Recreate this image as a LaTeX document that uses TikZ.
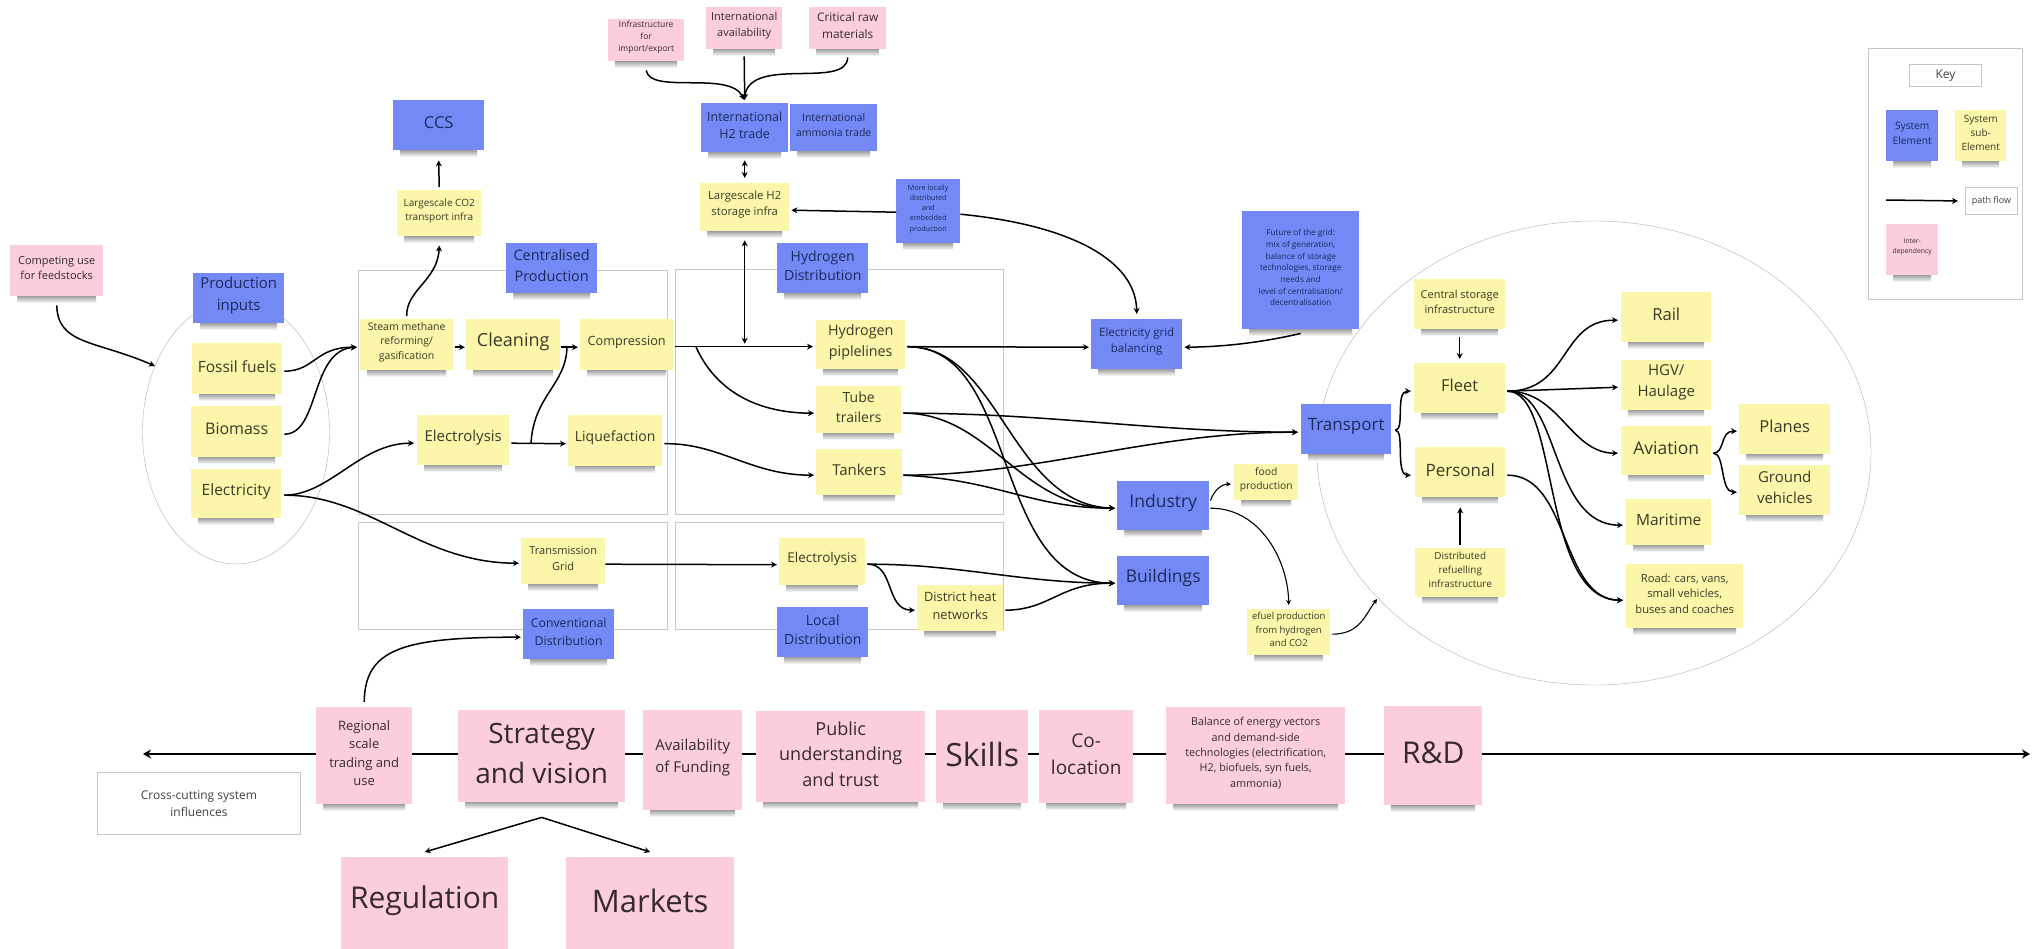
\documentclass[tikz,border=0pt]{standalone}
\usepackage{fontspec}
\setmainfont{Open Sans}
\usetikzlibrary{arrows.meta,calc,shapes.geometric}
\definecolor{noteblue}{HTML}{7389F5}
\definecolor{noteyellow}{HTML}{FBF6A9}
\definecolor{notepink}{HTML}{FBCDDE}
\definecolor{inkblue}{HTML}{1D2A5C}
\definecolor{inkyellow}{HTML}{3A3A28}
\definecolor{inkpink}{HTML}{352A30}
\definecolor{framegrey}{HTML}{C6C6C6}
\newcommand{\fs}[1]{\fontsize{#1}{\fpeval{1.42*#1}}\selectfont}
\newcommand{\stickynote}[7]{%
  \shade[top color=black!38,bottom color=white] ({#2+7},#5) rectangle ({#4-7},{#5+7});
  \node[#6,anchor=north west,minimum width={(#4-#2)*1pt},minimum height={(#5-#3)*1pt}] (#1) at (#2,#3) {};
  \node[#6,fill=none] (#1txt) at ([yshift=2.5pt]#1.center) {#7};}
\newcommand{\plainbox}[7]{%
  \node[#6,anchor=north west,minimum width={(#4-#2)*1pt},minimum height={(#5-#3)*1pt}] (#1) at (#2,#3) {#7};}
\tikzset{
  note/.style={inner sep=0pt,align=center},
  bn/.style={note,fill=noteblue,text=inkblue,font=\fs{#1}},
  yn/.style={note,fill=noteyellow,text=inkyellow,font=\fs{#1}},
  pn/.style={note,fill=notepink,text=inkpink,font=\fs{#1}},
  frame/.style={note,draw=framegrey,line width=0.9pt,text=black!75,font=\fs{#1}},
  zone/.style={draw=framegrey,line width=0.9pt},
  ring/.style={draw=black!28,line width=0.45pt},
  flow/.style={draw=black,line width=1.5pt,-{Stealth[length=6pt,width=6pt]}},
  flowtwo/.style={draw=black,line width=1.5pt,{Stealth[length=6pt,width=6pt]}-{Stealth[length=6pt,width=6pt]}},
  plainflow/.style={draw=black,line width=1.5pt},
  thinflow/.style={draw=black,line width=1.1pt,-{Stealth[length=5pt,width=5pt]}},
  axisline/.style={draw=black,line width=2.6pt,{Stealth[length=8pt,width=9pt]}-{Stealth[length=8pt,width=9pt]}}
}
\begin{document}
\begin{tikzpicture}[x=1pt,y=-1pt]
\useasboundingbox (0,0) rectangle (2036,949);
\fill[white] (0,0) rectangle (2036,949);
% zones
\plainbox{zcp}{358}{270}{667}{514}{zone}{}
\plainbox{zhd}{675}{269}{1003}{514}{zone}{}
\plainbox{zcd}{358}{522}{667}{629}{zone}{}
\plainbox{zld}{675}{522}{1003}{629}{zone}{}
\node[ring,ellipse,minimum width=187pt,minimum height=264pt,inner sep=0pt] (inputring) at (236,432) {};
\node[ring,ellipse,minimum width=554pt,minimum height=464pt,inner sep=0pt] (transring) at (1594,453) {};
% axis
\coordinate (axL) at (143,754);
\coordinate (axR) at (2030,754);
\draw[axisline] (axL) -- (axR);
% key
\plainbox{keybox}{1868}{48}{2022}{299}{frame=8}{}
\plainbox{keytitle}{1909}{64}{1981}{86}{frame=12}{Key}
\stickynote{keyse}{1886}{110}{1938}{161}{bn=10.2}{System\\Element}
\stickynote{keysub}{1955}{110}{2006}{161}{yn=10}{System\\sub-\\Element}
\plainbox{keypath}{1965}{187}{2017}{214}{frame=9}{path flow}
\stickynote{keyint}{1886}{224}{1938}{275}{pn=6.8}{Inter-\\dependency}
\coordinate (keyarrow) at (1886,200);
% left
\stickynote{competing}{10}{245}{103}{296}{pn=11}{Competing use\\for feedstocks}
\stickynote{prodin}{193}{273}{284}{323}{bn=15}{Production\\inputs}
\stickynote{fossil}{192}{343}{282}{394}{yn=15.5}{Fossil fuels}
\stickynote{biomass}{191}{406}{282}{457}{yn=16}{Biomass}
\stickynote{elec}{191}{469}{281}{518}{yn=15.5}{Electricity}
% centralised
\stickynote{steam}{360}{319}{453}{370}{yn=10.5}{Steam methane\\reforming/\\gasification}
\stickynote{clean}{466}{319}{560}{370}{yn=18}{Cleaning}
\stickynote{comp}{580}{319}{673}{370}{yn=12.7}{Compression}
\stickynote{electro}{417}{415}{509}{465}{yn=15}{Electrolysis}
\stickynote{liq}{568}{415}{662}{466}{yn=14}{Liquefaction}
\stickynote{cotwo}{397}{190}{481}{236}{yn=10}{Largescale CO2\\transport infra}
\stickynote{ccs}{393}{100}{484}{150}{bn=16.5}{CCS}
\stickynote{centprod}{506}{243}{597}{293}{bn=14.5}{Centralised\\Production}
% top
\stickynote{hyddist}{777}{243}{868}{293}{bn=14}{Hydrogen\\Distribution}
\stickynote{infra}{608}{19}{684}{61}{pn=8.5}{Infrastructure\\for\\import/export}
\stickynote{intav}{706}{7}{782}{49}{pn=11}{International\\availability}
\stickynote{crit}{809}{7}{886}{49}{pn=11.8}{Critical raw\\materials}
\stickynote{inthtwo}{701}{103}{788}{152}{bn=12.5}{International\\H2 trade}
\stickynote{intamm}{790}{104}{877}{151}{bn=10.5}{International\\ammonia trade}
\stickynote{largeh}{700}{183}{789}{231}{yn=11.3}{Largescale H2\\storage infra}
\stickynote{morelocal}{896}{179}{960}{243}{bn=7.2}{More locally\\distributed\\and\\embedded\\production}
% distribution
\stickynote{pipes}{816}{320}{905}{369}{yn=14.3}{Hydrogen\\piplelines}
\stickynote{tube}{816}{386}{901}{433}{yn=14}{Tube\\trailers}
\stickynote{tank}{816}{449}{902}{495}{yn=15}{Tankers}
\stickynote{transgrid}{521}{538}{605}{584}{yn=11}{Transmission\\Grid}
\stickynote{electwo}{779}{538}{865}{585}{yn=13.5}{Electrolysis}
\stickynote{district}{917}{585}{1003}{631}{yn=12.8}{District heat\\networks}
\stickynote{conv}{523}{609}{614}{659}{bn=12.3}{Conventional\\Distribution}
\stickynote{local}{777}{607}{868}{657}{bn=14}{Local\\Distribution}
% end uses
\stickynote{grid}{1091}{319}{1182}{369}{bn=11.5}{Electricity grid\\balancing}
\stickynote{future}{1242}{211}{1359}{329}{bn=8.2}{Future of the grid:\\mix of generation,\\balance of storage\\technologies, storage\\needs and\\level of centralisation/\\decentralisation}
\stickynote{industry}{1117}{481}{1209}{530}{bn=17.5}{Industry}
\stickynote{buildings}{1117}{556}{1209}{605}{bn=17.5}{Buildings}
\stickynote{food}{1234}{464}{1298}{500}{yn=10.3}{food\\production}
\stickynote{efuel}{1247}{609}{1330}{655}{yn=9.5}{efuel production\\from hydrogen\\and CO2}
\stickynote{transport}{1301}{404}{1391}{454}{bn=17}{Transport}
\stickynote{central}{1414}{279}{1505}{329}{yn=11}{Central storage\\infrastructure}
\stickynote{fleet}{1414}{363}{1505}{413}{yn=16.5}{Fleet}
\stickynote{personal}{1415}{447}{1505}{497}{yn=17}{Personal}
\stickynote{distrib}{1415}{548}{1505}{597}{yn=9.9}{Distributed\\refuelling\\infrastructure}
\stickynote{rail}{1621}{292}{1711}{342}{yn=16.6}{Rail}
\stickynote{hgv}{1621}{360}{1711}{410}{yn=15}{HGV/\\Haulage}
\stickynote{aviation}{1621}{426}{1711}{475}{yn=17.5}{Aviation}
\stickynote{maritime}{1626}{499}{1711}{545}{yn=15.5}{Maritime}
\stickynote{road}{1626}{564}{1743}{628}{yn=11.2}{Road: cars, vans,\\small vehicles,\\buses and coaches}
\stickynote{planes}{1739}{404}{1830}{454}{yn=16.5}{Planes}
\stickynote{ground}{1739}{465}{1830}{515}{yn=15}{Ground\\vehicles}
% cross cutting
\stickynote{regional}{316}{707}{412}{804}{pn=13}{Regional\\scale\\trading and\\use}
\stickynote{strategy}{458}{710}{625}{802}{pn=28}{Strategy\\and vision}
\stickynote{funding}{643}{710}{742}{810}{pn=15}{Availability\\of Funding}
\stickynote{public}{756}{711}{925}{802}{pn=18}{Public\\understanding\\and trust}
\stickynote{skills}{936}{710}{1028}{803}{pn=32}{Skills}
\stickynote{coloc}{1039}{710}{1133}{803}{pn=19}{Co-\\location}
\stickynote{balance}{1166}{707}{1345}{804}{pn=10.8}{Balance of energy vectors\\and demand-side\\technologies (electrification,\\H2, biofuels, syn fuels,\\ammonia)}
\stickynote{rnd}{1384}{706}{1482}{805}{pn=30}{R\&D}
\plainbox{cross}{97}{772}{300}{834}{frame=12}{Cross-cutting system\\influences}
\stickynote{regulation}{341}{857}{508}{949}{pn=30}{Regulation}
\stickynote{markets}{566}{857}{734}{949}{pn=31}{Markets}
% connectors
\draw[flow] (keyarrow) -- ([xshift=-7pt]keypath.west);
\coordinate (ringin) at (155,366);
\coordinate (ringintwo) at (1377,599);
\coordinate (ebranch) at (531,443);
\coordinate (cbranch) at (696,347);
\draw[flow] ([yshift=-9pt]competing.south) .. controls (58,345) and (95,340) .. (ringin);
\draw[flow] ([xshift=2pt,yshift=-2.5pt]fossil.east) .. controls (315,371) and (315,347) .. ([xshift=-3pt,yshift=-2.5pt]steam.west);
\draw[flow] ([xshift=2pt,yshift=-2.5pt]biomass.east) .. controls (320,434) and (310,350) .. ([xshift=-3pt,yshift=-2.5pt]steam.west);
\draw[flow] ([xshift=2pt,yshift=-2.5pt]steam.east) -- ([xshift=-1pt,yshift=-2.5pt]clean.west);
\draw[flow] ([xshift=1pt,yshift=-2.5pt]clean.east) -- ([xshift=-2pt,yshift=-2.5pt]comp.west);
\draw[flow] ([yshift=3pt]steam.north) .. controls (406,290) and (438,280) .. ([yshift=-9pt]cotwo.south);
\draw[flow] ([yshift=3pt]cotwo.north) -- ([yshift=-10pt]ccs.south);
\draw[flow] ([xshift=2pt,yshift=-3pt]electro.east) -- ([xshift=-2pt,yshift=-3pt]liq.west);
\draw[plainflow] (ebranch) .. controls (534,395) and (566,385) .. (567,347);
\draw[flow] ([xshift=3pt,yshift=-1.5pt]elec.east) .. controls (330,495) and (360,443) .. ([xshift=-3pt,yshift=-3pt]electro.west);
\draw[flow] ([xshift=3pt,yshift=-1.5pt]elec.east) .. controls (370,495) and (420,563) .. ([xshift=-2pt,yshift=-2pt]transgrid.west);
\draw[flow] ([yshift=-3pt]transgrid.east) -- ([xshift=-2pt,yshift=-3pt]electwo.west);
\draw[flow] ([xshift=2pt,yshift=-3pt]liq.east) .. controls (720,443) and (750,475) .. ([xshift=-2pt,yshift=-3pt]tank.west);
\draw[flow] ([xshift=2pt,yshift=-2pt]comp.east) -- ([xshift=-3pt,yshift=-2pt]pipes.west);
\draw[flow] (cbranch) .. controls (720,400) and (770,413) .. ([xshift=-2pt,yshift=-3.5pt]tube.west);
\draw[flow] ([yshift=-9pt]infra.south) .. controls (650,95) and (730,70) .. ([xshift=-0.5pt,yshift=3pt]inthtwo.north);
\draw[flow] ([yshift=-7pt]intav.south) -- ([yshift=3pt]inthtwo.north);
\draw[flow] ([yshift=-8pt]crit.south) .. controls (847,90) and (750,55) .. ([xshift=-0.5pt,yshift=3pt]inthtwo.north);
\draw[flowtwo] ([yshift=-8pt]inthtwo.south) -- ([yshift=5pt]largeh.north);
\draw[flowtwo] ([yshift=-9pt]largeh.south) -- ([yshift=1pt]pipes.west -| largeh.south);
\draw[flow] ([yshift=-1pt]morelocal.west) -- ([xshift=2pt,yshift=-3pt]largeh.east);
\draw[flow] ([yshift=-3pt]morelocal.east) .. controls (1070,225) and (1136,260) .. ([yshift=5pt]grid.north);
\draw[flow] ([yshift=-4pt]future.south) .. controls (1260,343) and (1220,347) .. ([xshift=2pt,yshift=-3pt]grid.east);
\draw[flow] ([xshift=2pt,yshift=-2pt]pipes.east) -- ([xshift=-2pt,yshift=-3pt]grid.west);
\draw[flow] ([xshift=2pt,yshift=-2pt]pipes.east) .. controls (1000,346) and (1010,505) .. ([xshift=-2pt,yshift=-2.5pt]industry.west);
\draw[flow] ([xshift=2pt,yshift=-2pt]pipes.east) .. controls (1020,346) and (990,583) .. ([xshift=-2pt,yshift=-2.5pt]buildings.west);
\draw[flow] ([xshift=2pt,yshift=-3.5pt]tube.east) .. controls (1050,413) and (1150,432) .. ([xshift=-3pt,yshift=-3pt]transport.west);
\draw[flow] ([xshift=2pt,yshift=-3.5pt]tube.east) .. controls (990,413) and (1020,508) .. ([xshift=-2pt,yshift=-2.5pt]industry.west);
\draw[flow] ([xshift=1pt,yshift=-3pt]tank.east) .. controls (1040,475) and (1150,432) .. ([xshift=-3pt,yshift=-3pt]transport.west);
\draw[flow] ([xshift=1pt,yshift=-3pt]tank.east) .. controls (1000,480) and (1030,508) .. ([xshift=-2pt,yshift=-2.5pt]industry.west);
\draw[flow] ([xshift=2pt,yshift=-2.5pt]electwo.east) .. controls (960,564) and (1020,583) .. ([xshift=-2pt,yshift=-2.5pt]buildings.west);
\draw[flow] ([xshift=2pt,yshift=-2pt]district.east) .. controls (1050,610) and (1060,583) .. ([xshift=-2pt,yshift=-2.5pt]buildings.west);
\draw[flow] ([xshift=2pt,yshift=-2.5pt]electwo.east) .. controls (895,564) and (885,610) .. ([xshift=-2pt,yshift=-2pt]district.west);
\draw[thinflow] ([xshift=1pt,yshift=5pt]industry.east) .. controls (1214,490) and (1222,484) .. ([xshift=-3pt,yshift=-2pt]food.west);
\draw[thinflow] ([xshift=1pt,yshift=-2.5pt]industry.east) .. controls (1260,508) and (1288,560) .. ([xshift=0pt,yshift=4pt]efuel.north);
\draw[thinflow] ([xshift=2pt,yshift=-2pt]efuel.east) .. controls (1360,634) and (1365,615) .. (ringintwo);
\draw[flow] ([xshift=4pt,yshift=-1pt]transport.east) .. controls (1405,430) and (1395,391) .. ([xshift=-3pt,yshift=-3pt]fleet.west);
\draw[flow] ([xshift=4pt,yshift=-1pt]transport.east) .. controls (1405,430) and (1395,475) .. ([xshift=-4pt,yshift=-3pt]personal.west);
\draw[flow] ([yshift=-8pt]central.south) -- ([yshift=4pt]fleet.north);
\draw[flow] ([yshift=3pt]distrib.north) -- ([yshift=-10pt]personal.south);
\draw[flow] ([xshift=2pt,yshift=-3pt]fleet.east) .. controls (1570,391) and (1560,320) .. ([xshift=-3pt,yshift=-3pt]rail.west);
\draw[flow] ([xshift=2pt,yshift=-3pt]fleet.east) -- ([xshift=-3pt,yshift=-2pt]hgv.west);
\draw[flow] ([xshift=2pt,yshift=-3pt]fleet.east) .. controls (1560,391) and (1570,453) .. ([xshift=-3pt,yshift=-2.5pt]aviation.west);
\draw[flow] ([xshift=2pt,yshift=-3pt]fleet.east) .. controls (1560,391) and (1550,525) .. ([xshift=-3pt,yshift=-3pt]maritime.west);
\draw[flow] ([xshift=2pt,yshift=-3pt]fleet.east) .. controls (1560,391) and (1540,600) .. ([xshift=-3pt,yshift=-4pt]road.west);
\draw[flow] ([xshift=2pt,yshift=-3pt]personal.east) .. controls (1570,475) and (1560,600) .. ([xshift=-3pt,yshift=-4pt]road.west);
\draw[flow] ([xshift=2pt,yshift=-2.5pt]aviation.east) .. controls (1725,453) and (1720,431) .. ([xshift=-2pt,yshift=-2pt]planes.west);
\draw[flow] ([xshift=2pt,yshift=-2.5pt]aviation.east) .. controls (1725,453) and (1720,492) .. ([xshift=-2pt,yshift=-2pt]ground.west);
\draw[flow] ([yshift=5pt]regional.north) .. controls (365,650) and (400,637) .. ([xshift=-2pt,yshift=-3pt]conv.west);
\draw[flow] ([yshift=-15pt]strategy.south) -- ([yshift=5pt]regulation.north);
\draw[flow] ([yshift=-15pt]strategy.south) -- ([yshift=5pt]markets.north);
\end{tikzpicture}
\end{document}
